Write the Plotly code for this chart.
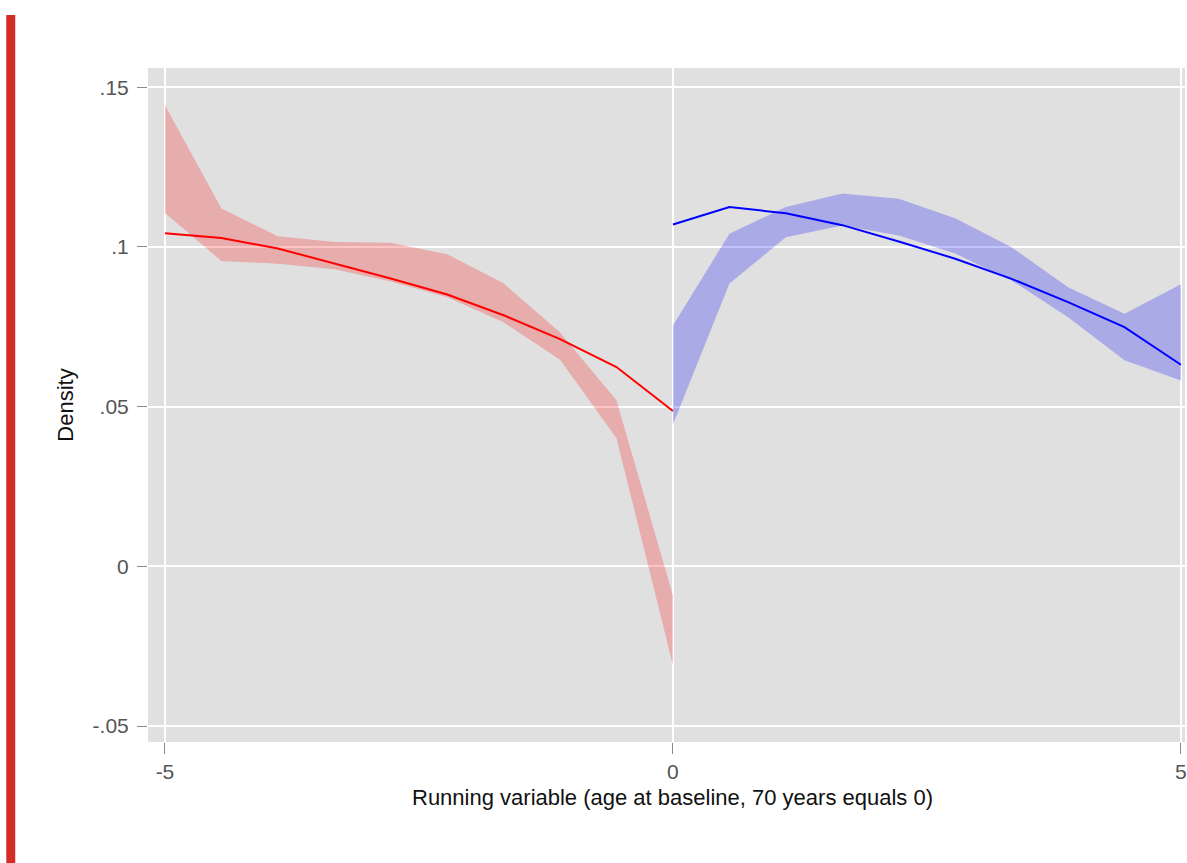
import plotly.graph_objects as go

# Running variable grid (bins of width 5/9) on each side of the cutoff
x_left = [-5.0, -4.444, -3.889, -3.333, -2.778, -2.222, -1.667, -1.111, -0.556, 0.0]
x_right = [0.0, 0.556, 1.111, 1.667, 2.222, 2.778, 3.333, 3.889, 4.444, 5.0]

# Left of cutoff: fitted density and confidence band
fit_left = [0.1043, 0.1028, 0.0995, 0.0948, 0.0901, 0.0851, 0.0786, 0.0711, 0.0624, 0.0486]
ci_left_hi = [0.1443, 0.1120, 0.1033, 0.1015, 0.1013, 0.0977, 0.0886, 0.0732, 0.0520, -0.0091]
ci_left_lo = [0.1106, 0.0956, 0.0947, 0.0930, 0.0892, 0.0842, 0.0764, 0.0647, 0.0401, -0.0310]

# Right of cutoff: fitted density and confidence band
fit_right = [0.1070, 0.1125, 0.1105, 0.1068, 0.1017, 0.0963, 0.0900, 0.0827, 0.0749, 0.0631]
ci_right_hi = [0.0754, 0.1041, 0.1125, 0.1167, 0.1151, 0.1090, 0.0999, 0.0874, 0.0791, 0.0883]
ci_right_lo = [0.0444, 0.0885, 0.1030, 0.1067, 0.1036, 0.0979, 0.0895, 0.0780, 0.0645, 0.0582]

y_ticks = [-0.05, 0, 0.05, 0.1, 0.15]
y_tick_text = ["-.05", "0", ".05", ".1", ".15"]
x_ticks = [-5, 0, 5]
x_tick_text = ["-5", "0", "5"]
x_title = "Running variable (age at baseline, 70 years equals 0)"
y_title = "Density"

fig = go.Figure()


def add_band(x, lo, hi, fill):
    fig.add_trace(go.Scatter(x=x + x[::-1], y=hi + lo[::-1], fill="toself",
                             fillcolor=fill, line=dict(width=0), mode="lines",
                             hoverinfo="skip", showlegend=False))


add_band(x_left, ci_left_lo, ci_left_hi, "rgba(255,0,0,0.23)")
add_band(x_right, ci_right_lo, ci_right_hi, "rgba(0,0,255,0.24)")

fig.add_trace(go.Scatter(x=x_left, y=fit_left, mode="lines",
                         line=dict(color="#ff0000", width=2), showlegend=False))
fig.add_trace(go.Scatter(x=x_right, y=fit_right, mode="lines",
                         line=dict(color="#0000ff", width=2), showlegend=False))

W, H = 1187, 863
L, T, B, R = 148, 68, 121, 0
plot_w = W - L - R
plot_h = H - T - B

TICK_SIZE = 21
TITLE_SIZE = 22

fig.update_layout(
    width=W, height=H,
    margin=dict(l=L, r=R, t=T, b=B, pad=0),
    paper_bgcolor="white",
    plot_bgcolor="#e0e0e0",
    font=dict(family="Liberation Sans, Arial, sans-serif", color="#555555", size=TICK_SIZE),
    xaxis=dict(
        range=[-5.167, 5.04], tickvals=x_ticks, ticktext=x_tick_text,
        showgrid=True, gridcolor="white", gridwidth=1.5, zeroline=False,
        ticks="outside", ticklen=11, tickcolor="#888888", tickwidth=1.2,
        tickfont=dict(size=TICK_SIZE, color="#555555"),
        ticklabeloverflow="allow",
        showline=False,
    ),
    yaxis=dict(
        range=[-0.055, 0.156], tickvals=y_ticks, ticktext=y_tick_text,
        showgrid=True, gridcolor="white", gridwidth=1.5, zeroline=False,
        ticks="outside", ticklen=10, tickcolor="#888888", tickwidth=1.2,
        tickfont=dict(size=TICK_SIZE, color="#555555"),
        ticklabelstandoff=4,
        title=dict(text=y_title, font=dict(size=TITLE_SIZE, color="#111111"), standoff=12),
        showline=False,
    ),
)

# x-axis title centred on the cutoff (x = 0)
fig.add_annotation(x=0, xref="x", y=(H - B - 797) / plot_h, yref="paper",
                   text=x_title, showarrow=False, xanchor="center", yanchor="middle",
                   font=dict(size=TITLE_SIZE, color="#111111"))

# Accent bar on the left edge of the page
fig.add_shape(type="rect", xref="paper", yref="paper",
              x0=(6 - L) / plot_w, x1=(15 - L) / plot_w,
              y0=(H - B - H - 5) / plot_h, y1=(H - B - 15) / plot_h,
              fillcolor="#d42b24", line=dict(width=0), layer="above")

fig.write_html("out.html")
